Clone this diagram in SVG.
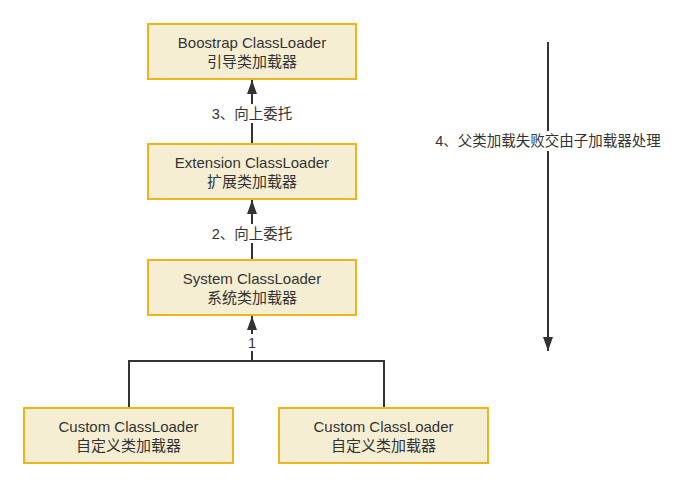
<svg xmlns="http://www.w3.org/2000/svg" width="680" height="488" viewBox="0 0 680 488">
<style>
.box{fill:#f6eed3;stroke:#eeb41c;stroke-width:2}
.t{font-family:"Liberation Sans","Noto Sans CJK SC",sans-serif;font-size:15px;fill:#333;text-anchor:middle}
.l{font-family:"Liberation Sans","Noto Sans CJK SC",sans-serif;font-size:14.5px;fill:#333;text-anchor:middle}
.c{fill:none;stroke:#333;stroke-width:2}
</style>
<defs>
<marker id="ah" markerWidth="14" markerHeight="10" refX="14" refY="5" orient="auto" markerUnits="userSpaceOnUse" viewBox="0 0 14 10">
<path d="M0,0 L14,5 L0,10 Z" fill="#333"/>
</marker>
</defs>
<rect width="680" height="488" fill="#fff"/>
<g id="connectors">
<line class="c" x1="252" y1="144" x2="252" y2="80" marker-end="url(#ah)"/>
<line class="c" x1="252" y1="260" x2="252" y2="200" marker-end="url(#ah)"/>
<polyline class="c" points="129,408 129,361 384,361 384,408"/>
<line class="c" x1="252" y1="361" x2="252" y2="316" marker-end="url(#ah)"/>
<line class="c" x1="548" y1="42" x2="548" y2="351" marker-end="url(#ah)"/>
<rect x="205" y="104" width="94" height="19" fill="#fff"/>
<text class="l" x="252" y="119">3、向上委托</text>
<rect x="205" y="224" width="94" height="19" fill="#fff"/>
<text class="l" x="252" y="239">2、向上委托</text>
<rect x="245" y="334" width="14" height="17" fill="#fff"/>
<text class="l" x="252" y="348">1</text>
<rect x="428" y="131" width="240" height="20" fill="#fff"/>
<text class="l" x="548" y="146">4、父类加载失败交由子加载器处理</text>
</g>
<g id="boostrap">
<rect class="box" x="148" y="24" width="208" height="55"/>
<text class="t" x="252" y="48">Boostrap ClassLoader</text>
<text class="t" x="252" y="67">引导类加载器</text>
</g>
<g id="extension">
<rect class="box" x="148" y="144" width="208" height="55"/>
<text class="t" x="252" y="168">Extension ClassLoader</text>
<text class="t" x="252" y="187">扩展类加载器</text>
</g>
<g id="system">
<rect class="box" x="148" y="260" width="208" height="55"/>
<text class="t" x="252" y="284">System ClassLoader</text>
<text class="t" x="252" y="303">系统类加载器</text>
</g>
<g id="custom1">
<rect class="box" x="24" y="408" width="209" height="55"/>
<text class="t" x="128.500" y="432">Custom ClassLoader</text>
<text class="t" x="128.500" y="451">自定义类加载器</text>
</g>
<g id="custom2">
<rect class="box" x="279" y="408" width="209" height="55"/>
<text class="t" x="383.500" y="432">Custom ClassLoader</text>
<text class="t" x="383.500" y="451">自定义类加载器</text>
</g>
</svg>
